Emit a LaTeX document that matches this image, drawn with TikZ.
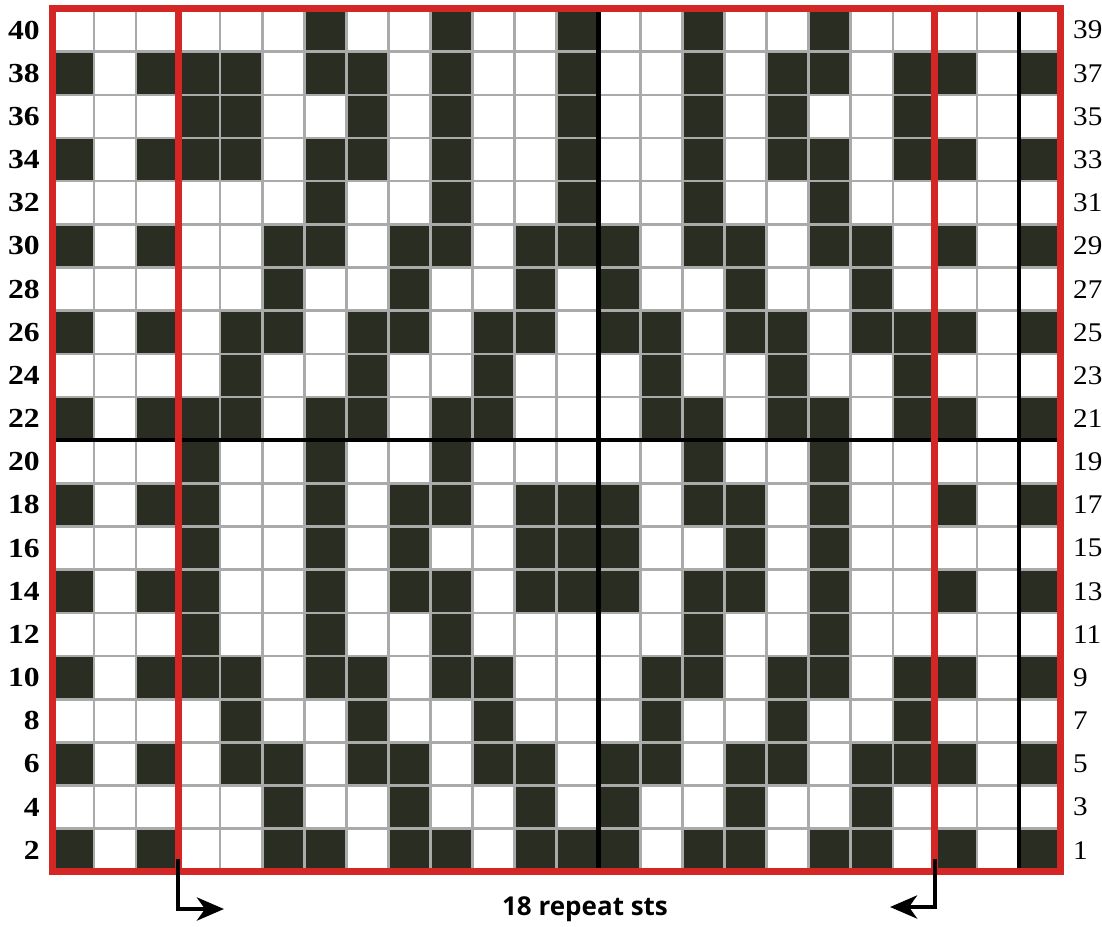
\documentclass[tikz,border=0pt]{standalone}
\usepackage{fontspec}
\setmainfont{Liberation Serif}
\newfontfamily\lblsans{Open Sans}
\usetikzlibrary{arrows.meta}
\definecolor{chartred}{RGB}{212,38,36}
\definecolor{chartdark}{RGB}{42,45,34}
\definecolor{chartgray}{RGB}{170,170,170}
\begin{document}
\begin{tikzpicture}[x=1pt,y=-1pt,
  cellfill/.style={fill=chartdark},
  gridline/.style={draw=chartgray,line width=2.6pt},
  boldline/.style={draw=black,line width=4.5pt},
  redline/.style={draw=chartred,line width=7pt},
  arrowline/.style={draw=black,line width=4.6pt,-{Stealth[length=27pt,width=23pt,inset=8pt]}},
  leftlbl/.style={anchor=east,inner sep=0pt,xscale=1.15,font=\fontsize{27.5}{27.5}\selectfont\bfseries},
  rightlbl/.style={anchor=west,inner sep=0pt,xscale=1.08,font=\fontsize{27}{27}\selectfont},
  caption/.style={inner sep=0pt,font=\lblsans\fontsize{26}{26}\selectfont\bfseries}]
\def\cw{42.04}
\def\ch{43.17}
\def\xo{52}
\def\yo{8.5}
\useasboundingbox (0,0) rectangle (1102,926);
\fill[white] (0,0) rectangle (1102,926);
% dark cells, row 0 = top (40/39)
\foreach \r/\cols in {
  0/{6,9,12,15,18},
  1/{0,2,3,4,6,7,9,12,15,17,18,20,21,23},
  2/{3,4,7,9,12,15,17,20},
  3/{0,2,3,4,6,7,9,12,15,17,18,20,21,23},
  4/{6,9,12,15,18},
  5/{0,2,5,6,8,9,11,12,13,15,16,18,19,21,23},
  6/{5,8,11,13,16,19},
  7/{0,2,4,5,7,8,10,11,13,14,16,17,19,20,21,23},
  8/{4,7,10,14,17,20},
  9/{0,2,3,4,6,7,9,10,14,15,17,18,20,21,23},
  10/{3,6,9,15,18},
  11/{0,2,3,6,8,9,11,12,13,15,16,18,21,23},
  12/{3,6,8,11,12,13,16,18},
  13/{0,2,3,6,8,9,11,12,13,15,16,18,21,23},
  14/{3,6,9,15,18},
  15/{0,2,3,4,6,7,9,10,14,15,17,18,20,21,23},
  16/{4,7,10,14,17,20},
  17/{0,2,4,5,7,8,10,11,13,14,16,17,19,20,21,23},
  18/{5,8,11,13,16,19},
  19/{0,2,5,6,8,9,11,12,13,15,16,18,19,21,23}}{
  \foreach \c in \cols {
    \fill[cellfill] ({\xo+\c*\cw},{\yo+\r*\ch}) rectangle ({\xo+(\c+1)*\cw},{\yo+(\r+1)*\ch});
  }
}
% grid
\foreach \c in {1,...,23} {
  \draw[gridline] ({\xo+\c*\cw},\yo) -- ({\xo+\c*\cw},{\yo+20*\ch});
}
\foreach \r in {1,...,19} {
  \draw[gridline] (\xo,{\yo+\r*\ch}) -- ({\xo+24*\cw},{\yo+\r*\ch});
}
% heavy black lines
\draw[boldline] (\xo,{\yo+10*\ch}) -- ({\xo+24*\cw},{\yo+10*\ch});
\draw[boldline] ({\xo+13*\cw},\yo) -- ({\xo+13*\cw},{\yo+20*\ch});
\draw[boldline] ({\xo+23*\cw},\yo) -- ({\xo+23*\cw},{\yo+20*\ch});
% red repeat frame
\draw[redline] (\xo,\yo) rectangle ({\xo+24*\cw},{\yo+20*\ch});
\draw[redline] ({\xo+3*\cw},\yo) -- ({\xo+3*\cw},{\yo+20*\ch});
\draw[redline] ({\xo+21*\cw},\yo) -- ({\xo+21*\cw},{\yo+20*\ch});
% row labels
\foreach \r in {0,...,19} {
  \pgfmathtruncatemacro{\ev}{40-2*\r}
  \pgfmathtruncatemacro{\od}{39-2*\r}
  \node[leftlbl] (L\ev) at (40,{\yo+(\r+0.5)*\ch}) {\ev};
  \node[rightlbl] (R\od) at (1073,{\yo+(\r+0.5)*\ch}) {\od};
}
% repeat arrows
\coordinate (la0) at ({\xo+3*\cw},859);
\coordinate (la1) at ({\xo+3*\cw},909);
\coordinate (la2) at (224,909);
\coordinate (ra0) at ({\xo+21*\cw},859);
\coordinate (ra1) at ({\xo+21*\cw},907);
\coordinate (ra2) at (890,907);
\draw[arrowline] (la0) -- (la1) -- (la2);
\draw[arrowline] (ra0) -- (ra1) -- (ra2);
\node[caption] (rep) at (585,909) {18 repeat sts};
\end{tikzpicture}
\end{document}
